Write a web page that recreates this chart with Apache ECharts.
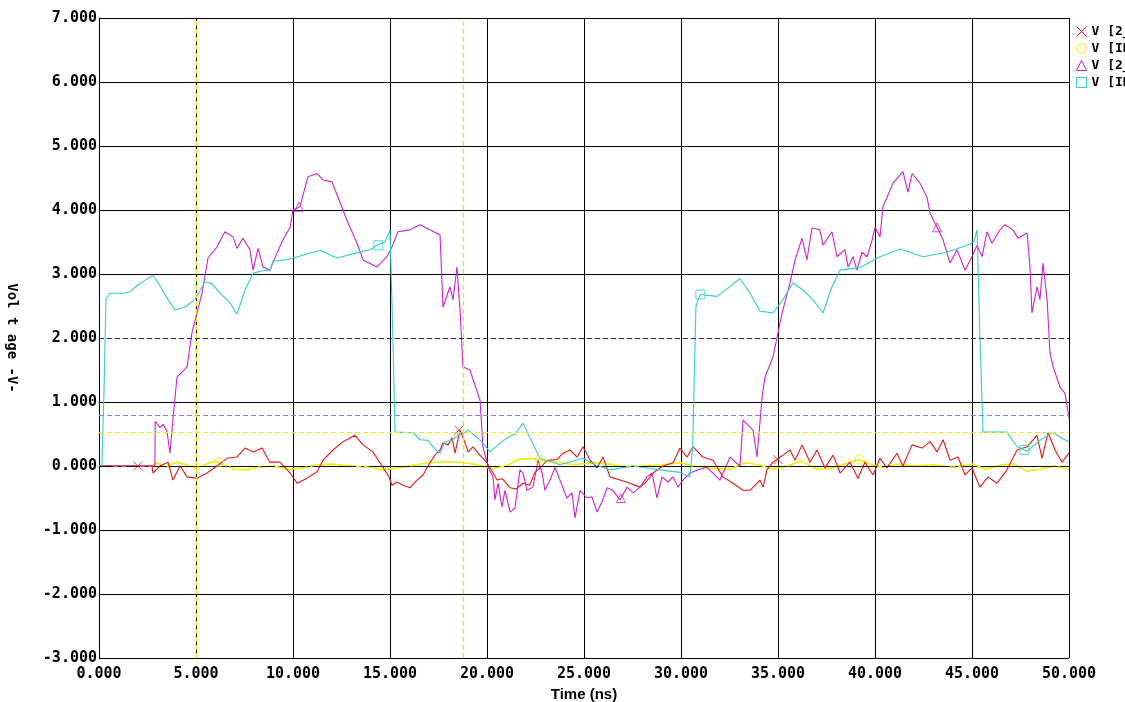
<!DOCTYPE html>
<html><head><meta charset="utf-8">
<script src="https://cdn.jsdelivr.net/npm/echarts@6/dist/echarts.min.js"></script>
<style>html,body{margin:0;padding:0;background:#fff}#c{width:1125px;height:702px}</style>
</head><body><div id="c"></div>
<script>
// ---- data (time in ns, voltage in V) ----
const seriesNames = ['V [2_A]', 'V [IN_A]', 'V [2_B]', 'V [IN_B]'];
const xTicks = { min: 0, max: 50, step: 5 };
const yTicks = { min: -3, max: 7, step: 1 };

const redV = [[0,0],[2.73,0],[2.78,-0.11],[3.14,0],[3.56,0.06],[3.81,-0.22],[4.18,0],[4.54,-0.17],[5.05,-0.19],[5.57,-0.11],[6.08,0],[6.6,0.12],[7.11,0.14],[7.53,0.28],[7.94,0.22],[8.4,0.28],[8.81,0.06],[9.33,0.06],[9.85,-0.11],[10.21,-0.27],[10.72,-0.19],[11.24,-0.09],[11.55,0.09],[12.06,0.25],[12.58,0.38],[13.2,0.48],[13.61,0.33],[14.12,0.22],[14.59,0],[14.95,-0.17],[15.1,-0.3],[15.36,-0.25],[15.67,-0.3],[16.03,-0.34],[16.39,-0.22],[16.7,-0.14],[17.06,0.05],[17.32,0.17],[17.58,0.25],[17.73,0.36],[18.0,0.33],[18.2,0.44],[18.35,0.2],[18.61,0.56],[18.87,0.36],[19.02,0.22],[19.28,0.3],[19.54,0.2],[19.79,0.12],[20.0,0.05],[20.52,-0.22],[20.8,-0.2],[21.19,-0.34],[21.5,-0.36],[21.86,-0.27],[22.2,-0.3],[22.47,-0.1],[22.84,0.0],[23.09,0.09],[23.6,0.1],[23.92,0.2],[24.28,0.25],[24.64,0.14],[24.95,0.3],[25.3,0.1],[25.67,-0.03],[25.98,0.14],[26.34,-0.17],[26.86,-0.22],[27.37,-0.27],[27.89,-0.33],[28.2,-0.25],[28.56,-0.11],[29.07,0.0],[29.59,0.05],[29.95,0.28],[30.31,0.14],[30.62,0.3],[31.13,0.14],[31.65,0.09],[32.16,-0.17],[32.68,-0.27],[33.2,-0.38],[33.56,-0.38],[34.07,-0.22],[34.23,-0.33],[34.43,-0.06],[34.74,0.06],[35.26,0.17],[35.62,0.25],[35.88,0.09],[36.24,0.33],[36.65,0.06],[37.01,0.25],[37.42,-0.03],[37.84,0.17],[38.2,-0.11],[38.71,0.06],[39.12,-0.19],[39.48,0.06],[39.9,-0.14],[40.26,0.12],[40.62,-0.03],[41.13,0.2],[41.44,0],[41.91,0.33],[42.42,0.28],[42.84,0.38],[43.2,0.22],[43.51,0.41],[43.87,0.09],[44.28,0.14],[44.64,-0.14],[45.0,-0.03],[45.41,-0.33],[45.82,-0.17],[46.29,-0.27],[46.8,-0.06],[47.32,0.25],[47.84,0.3],[48.35,0.48],[48.61,0.12],[48.92,0.52],[49.28,0.25],[49.64,0.06],[50,0.2]];

const yellowV = [[0,0],[2.7,0],[3.0,0.05],[3.4,-0.02],[4.0,0.06],[4.5,0.02],[5.0,-0.03],[5.6,0.04],[6.0,0.08],[6.4,0.02],[7.0,-0.05],[7.6,-0.06],[8.2,-0.02],[9.0,0.0],[9.8,-0.05],[10.5,-0.03],[11.2,0.02],[12.0,0.03],[13,0.0],[14,-0.02],[14.6,-0.06],[15.2,-0.04],[16,0.0],[17,0.05],[18,0.07],[18.8,0.05],[19.5,0.02],[20.2,-0.04],[21,0.0],[21.6,0.1],[22.3,0.12],[23,0.08],[23.8,0.05],[24.5,0.02],[25.5,0.05],[26.3,0.03],[27,-0.01],[28,0.0],[29,0.02],[30,0.05],[30.6,0.0],[31.5,-0.03],[32.5,-0.05],[33.3,0.05],[34,0.02],[34.7,-0.05],[35.5,0.0],[36.2,0.08],[37,-0.05],[37.8,-0.03],[38.5,0.04],[39.2,0.1],[39.8,0.02],[40.5,-0.02],[41.2,0.03],[42,0.0],[43,0.02],[44,-0.02],[45,0.03],[45.7,-0.05],[46.5,0.02],[47.2,0.03],[47.8,-0.08],[48.5,-0.05],[49.2,0.0],[50,-0.05]];

const magentaV = [[0,0],[2.88,0],[2.9,0.7],[3.14,0.6],[3.3,0.65],[3.5,0.55],[3.66,0.2],[3.81,0.72],[4.02,1.39],[4.54,1.55],[4.79,2.08],[5.05,2.39],[5.31,2.7],[5.62,3.25],[6.08,3.42],[6.49,3.66],[6.91,3.58],[7.11,3.4],[7.42,3.56],[7.78,3.38],[7.94,3.06],[8.2,3.4],[8.45,3.11],[8.81,3.06],[9.18,3.33],[9.48,3.53],[9.85,3.73],[10.0,4.0],[10.36,4.05],[10.77,4.52],[11.24,4.57],[11.55,4.47],[12.01,4.44],[12.32,4.2],[12.78,3.84],[13.3,3.48],[13.61,3.22],[14.33,3.11],[14.85,3.27],[15.1,3.42],[15.41,3.66],[16.03,3.69],[16.55,3.77],[17.06,3.69],[17.58,3.61],[17.73,2.48],[18.09,2.8],[18.25,2.6],[18.45,3.11],[18.61,2.44],[18.76,1.55],[19.12,1.5],[19.64,1.03],[19.79,0.3],[20.1,-0.05],[20.31,-0.17],[20.41,-0.53],[20.57,-0.27],[20.77,-0.64],[20.93,-0.38],[21.19,-0.72],[21.44,-0.66],[21.7,-0.06],[21.86,-0.11],[22.06,-0.38],[22.37,-0.33],[22.63,0.09],[22.84,-0.11],[22.99,-0.38],[23.25,-0.22],[23.51,-0.02],[23.76,-0.22],[24.12,-0.5],[24.38,-0.42],[24.54,-0.81],[24.79,-0.38],[25.15,-0.5],[25.41,-0.48],[25.67,-0.72],[25.93,-0.56],[26.19,-0.34],[26.49,-0.38],[26.86,-0.53],[27.22,-0.33],[27.53,-0.42],[27.89,-0.33],[28.25,-0.17],[28.51,-0.11],[28.76,-0.5],[29.02,-0.17],[29.33,-0.25],[29.59,-0.17],[29.85,-0.33],[30.1,-0.22],[30.46,-0.11],[30.88,-0.06],[31.34,-0.02],[32.01,-0.22],[32.53,0.14],[33.04,0.0],[33.2,0.72],[33.71,0.56],[33.92,0.14],[34.18,1.08],[34.33,1.39],[34.74,1.7],[35.0,2.08],[35.21,2.39],[35.62,2.86],[35.88,3.22],[36.24,3.56],[36.49,3.22],[36.75,3.72],[37.16,3.69],[37.32,3.45],[37.78,3.66],[38.04,3.27],[38.45,3.38],[38.61,3.11],[38.87,3.27],[39.07,3.06],[39.33,3.34],[39.59,3.27],[39.85,3.53],[40.0,3.73],[40.26,3.58],[40.41,4.05],[40.93,4.42],[41.44,4.6],[41.7,4.28],[41.91,4.57],[42.32,4.42],[42.68,4.2],[42.84,3.95],[43.2,3.73],[43.51,3.53],[43.87,3.17],[44.23,3.38],[44.64,3.06],[45.0,3.27],[45.26,3.45],[45.52,3.27],[45.77,3.66],[46.03,3.48],[46.44,3.69],[46.7,3.77],[47.11,3.69],[47.37,3.56],[47.84,3.64],[47.99,3.11],[48.09,2.39],[48.35,2.8],[48.5,2.6],[48.66,3.17],[48.87,2.6],[49.02,1.77],[49.18,1.55],[49.54,1.23],[49.79,1.14],[50.0,0.75]];

const cyanV = [[0,0],[0.15,0],[0.26,1.2],[0.36,2.6],[0.57,2.7],[1.24,2.7],[1.6,2.72],[1.96,2.82],[2.37,2.9],[2.78,2.98],[3.14,2.82],[3.56,2.6],[3.92,2.44],[4.43,2.48],[4.95,2.6],[5.46,2.88],[5.82,2.85],[6.24,2.7],[6.75,2.55],[7.11,2.37],[7.53,2.75],[7.94,3.01],[8.4,3.05],[8.81,3.06],[8.97,3.2],[9.59,3.22],[10.0,3.25],[10.6,3.3],[11.4,3.37],[12.27,3.25],[13.3,3.33],[13.97,3.38],[14.33,3.45],[14.74,3.5],[15.0,3.69],[15.15,2.0],[15.26,0.53],[16.19,0.52],[16.55,0.41],[16.96,0.4],[17.22,0.3],[17.58,0.2],[17.84,0.38],[18.2,0.4],[18.51,0.48],[18.87,0.52],[19.02,0.56],[19.48,0.45],[19.79,0.36],[20.15,0.22],[20.93,0.42],[21.44,0.5],[21.86,0.67],[22.2,0.45],[22.73,0.12],[23.76,0.02],[24.95,0.12],[25.57,0.02],[26.34,-0.06],[27.53,0.0],[28.92,-0.06],[29.95,-0.1],[30.46,-0.17],[30.6,0.3],[30.77,2.5],[30.98,2.68],[31.86,2.65],[32.42,2.78],[33.04,2.93],[33.56,2.7],[34.07,2.42],[34.74,2.39],[35.26,2.6],[35.77,2.86],[36.29,2.75],[36.8,2.6],[37.32,2.39],[37.78,2.8],[38.2,3.06],[39.23,3.1],[40.26,3.27],[41.29,3.39],[42.47,3.27],[43.71,3.34],[44.74,3.45],[45.1,3.5],[45.26,3.69],[45.41,2.0],[45.57,0.53],[46.8,0.53],[47.32,0.3],[47.84,0.23],[48.5,0.4],[49.18,0.53],[49.54,0.45],[50,0.38]];

// marker positions on each trace
const redMarks = [[2.0,0],[18.55,0.56],[35.0,0.1]];
const yellowMarks = [[6.2,0.06],[22.7,0.1],[39.2,0.1]];
const magentaMarks = [[10.3,4.05],[26.9,-0.5],[43.2,3.73]];
const cyanMarks = [[14.4,3.45],[31.0,2.68],[47.7,0.25]];

// reference lines
const hLines = [2.0, 0.8, 0.52, 0];
const vLines = [5.0, 18.76];

// ---- chart ----
const colors = ['#e01818', '#eeee00', '#cc22cc', '#33cccc'];
const crossPath = 'path://M0,0L10,10M10,0L0,10';
const symbols = [crossPath, 'circle', 'triangle', 'rect'];
const mono = 'DejaVu Sans Mono';
const traces = [redV, yellowV, magentaV, cyanV];
const marks = [redMarks, yellowMarks, magentaMarks, cyanMarks];

const series = [];
traces.forEach((d, i) => {
  series.push({
    name: seriesNames[i], type: 'line', data: d, showSymbol: false, symbol: symbols[i],
    lineStyle: { color: colors[i], width: i === 1 ? 1.6 : 1.1 },
    itemStyle: { color: 'rgba(0,0,0,0)', borderColor: colors[i], borderWidth: 1 },
    animation: false, z: 3 + (i === 1 ? 0 : 1)
  });
});
marks.forEach((d, i) => {
  series.push({
    type: 'scatter', data: d, symbol: symbols[i], symbolSize: 9,
    itemStyle: { color: 'rgba(0,0,0,0)', borderColor: colors[i], borderWidth: 1 },
    animation: false, z: 6, silent: true
  });
});
const hStyles = [
  { color: '#202080', type: [5, 3], width: 1 },
  { color: '#7f7fee', type: [5, 3], width: 1 },
  { color: '#eeee00', type: [5, 3], width: 1 },
  { color: '#111111', type: [14, 5, 3, 5], width: 1 }
];
series.push({
  type: 'line', data: [], silent: true, animation: false, z: 2,
  markLine: {
    symbol: 'none', silent: true, animation: false, label: { show: false },
    data: hLines.map((v, i) => ({ yAxis: v, lineStyle: hStyles[i] }))
      .concat(vLines.map(v => ({ xAxis: v, lineStyle: { color: '#e6e600', type: [5, 3], width: 1.3 } })))
  }
});

const ySplitColors = [];
for (let v = yTicks.min; v <= yTicks.max; v += yTicks.step) ySplitColors.push((v === 0 || v === 2) ? 'rgba(0,0,0,0)' : '#000');

const chart = echarts.init(document.getElementById('c'), null, { renderer: 'canvas' });
chart.setOption({
  backgroundColor: '#fff',
  animation: false,
  grid: { left: 99, right: 56, top: 18, bottom: 44, containLabel: false, outerBoundsMode: 'none' },
  legend: {
    orient: 'vertical', left: 1071, top: 20, itemGap: 4, itemWidth: 10, itemHeight: 10,
    data: seriesNames.map((n, i) => ({ name: n, icon: symbols[i], itemStyle: { color: 'rgba(0,0,0,0)', borderColor: colors[i], borderWidth: 1 } })),
    textStyle: { fontFamily: mono, fontWeight: 'bold', fontSize: 13, color: '#000' }
  },
  xAxis: {
    type: 'value', min: xTicks.min, max: xTicks.max, interval: xTicks.step,
    name: 'Time (ns)', nameLocation: 'middle', nameGap: 28,
    nameTextStyle: { fontFamily: 'Liberation Sans', fontWeight: 'bold', fontSize: 15, color: '#000' },
    axisLine: { show: true, lineStyle: { color: '#000', width: 1 } },
    axisTick: { show: false },
    axisLabel: { formatter: v => v.toFixed(3), fontFamily: mono, fontWeight: 'bold', fontSize: 15, color: '#000', margin: 9 },
    splitLine: { show: true, lineStyle: { color: '#000', width: 1 } }
  },
  yAxis: {
    type: 'value', min: yTicks.min, max: yTicks.max, interval: yTicks.step,
    name: 'Vol t age -V-', nameLocation: 'middle', nameGap: 80, nameRotate: -90,
    nameTextStyle: { fontFamily: mono, fontWeight: 'bold', fontSize: 14, color: '#000' },
    axisLine: { show: true, lineStyle: { color: '#000', width: 1 } },
    axisTick: { show: false },
    axisLabel: { formatter: v => v.toFixed(3), fontFamily: mono, fontWeight: 'bold', fontSize: 15, color: '#000', margin: 2 },
    splitLine: { show: true, lineStyle: { color: ySplitColors, width: 1 } }
  },
  series: series
});
</script></body></html>
